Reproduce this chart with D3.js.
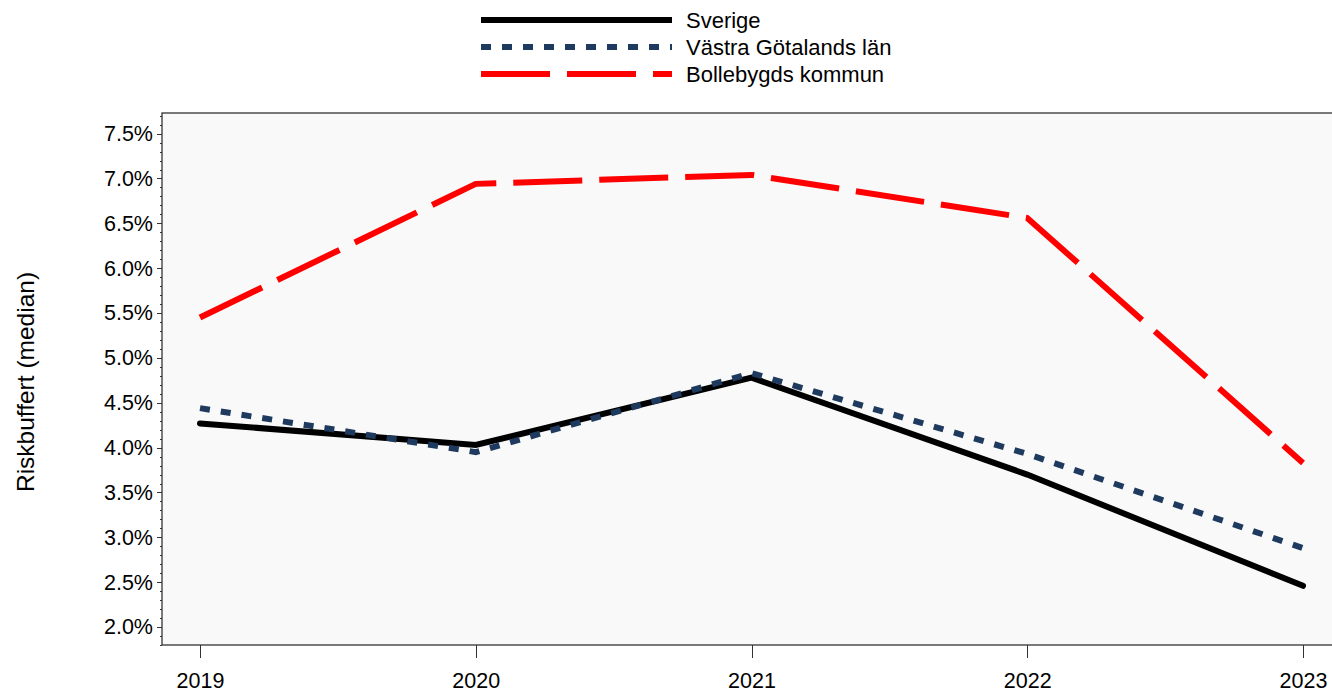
<!DOCTYPE html>
<html lang="en">
<head>
  <meta charset="UTF-8">
  <title>Riskbuffert</title>
  <style>
    body { margin: 0; background: #fff; }
    svg text { font-family: "Liberation Sans", Arial, sans-serif; fill: #000; }
    .axis path, .axis line { stroke: #333; shape-rendering: crispEdges; }
  </style>
</head>
<body>
  <svg class="chart" width="1332" height="693"></svg>
  <script src="https://cdn.jsdelivr.net/npm/d3@7"></script>
  <script>
    var years = ["2019", "2020", "2021", "2022", "2023"];
    var sverige = [4.27, 4.03, 4.78, 3.70, 2.46];
    var vastra = [4.44, 3.95, 4.83, 3.93, 2.88];
    var bollebygd = [5.45, 6.94, 7.04, 6.56, 3.83];
    var yTicks = [2.0, 2.5, 3.0, 3.5, 4.0, 4.5, 5.0, 5.5, 6.0, 6.5, 7.0, 7.5];

    var series = [
      {name: "Sverige", values: sverige, color: "#000", dash: null},
      {name: "Västra Götalands län", values: vastra, color: "#1f3a5f", dash: "10,11"},
      {name: "Bollebygds kommun", values: bollebygd, color: "#ff0000", dash: "69,17"}
    ];

    var plot = {left: 162, top: 113, right: 1340, bottom: 645};

    var svg = d3.select(".chart");

    var x = d3.scalePoint()
      .domain(years)
      .range([200, 1303]);

    var y = d3.scaleLinear()
      .domain([1.8, 7.73])
      .range([plot.bottom, plot.top]);

    // plot area
    svg.append("rect")
      .attr("x", plot.left).attr("y", plot.top)
      .attr("width", plot.right - plot.left).attr("height", plot.bottom - plot.top)
      .attr("fill", "#f9f9f9")
      .attr("stroke", "#333")
      .attr("stroke-width", 1.3);

    // minor ticks
    var minor = d3.range(18, 78).map(function(d) { return d / 10; });
    svg.append("g")
      .attr("class", "axis")
      .attr("transform", "translate(" + plot.left + ",0)")
      .call(d3.axisLeft(y).tickValues(minor).tickSize(2.5).tickFormat(""))
      .call(function(g) { g.select(".domain").remove(); });

    svg.append("g")
      .attr("class", "axis")
      .attr("transform", "translate(" + plot.left + ",0)")
      .call(d3.axisLeft(y).tickValues(yTicks).tickSize(5).tickPadding(4)
        .tickFormat(function(d) { return d.toFixed(1) + "%"; }))
      .call(function(g) {
        g.select(".domain").remove();
        g.selectAll("text").style("font-size", "21.5px");
      });

    svg.append("g")
      .attr("class", "axis")
      .attr("transform", "translate(0," + plot.bottom + ")")
      .call(d3.axisBottom(x).tickSize(13).tickPadding(15))
      .call(function(g) {
        g.select(".domain").remove();
        g.selectAll("line").attr("stroke", "#555");
        g.selectAll("text").style("font-size", "21.5px");
      });

    // y label
    svg.append("text")
      .attr("transform", "translate(34,382) rotate(-90)")
      .attr("text-anchor", "middle")
      .style("font-size", "24.5px")
      .text("Riskbuffert (median)");

    var line = d3.line()
      .x(function(d, i) { return x(years[i]); })
      .y(function(d) { return y(d); });

    series.forEach(function(s) {
      svg.append("path")
        .datum(s.values)
        .attr("d", line)
        .attr("fill", "none")
        .attr("stroke", s.color)
        .attr("stroke-width", 6)
        .attr("stroke-linecap", s.dash ? "butt" : "round")
        .attr("stroke-dasharray", s.dash);
    });

    // legend
    var legend = svg.append("g");
    series.forEach(function(s, i) {
      var ly = 20 + i * 27;
      legend.append("line")
        .attr("x1", 481).attr("x2", 672)
        .attr("y1", ly).attr("y2", ly)
        .attr("stroke", s.color)
        .attr("stroke-width", 6)
        .attr("stroke-dasharray", s.dash);
      legend.append("text")
        .attr("x", 686).attr("y", ly + 8)
        .style("font-size", "22px")
        .text(s.name);
    });
  </script>
</body>
</html>
